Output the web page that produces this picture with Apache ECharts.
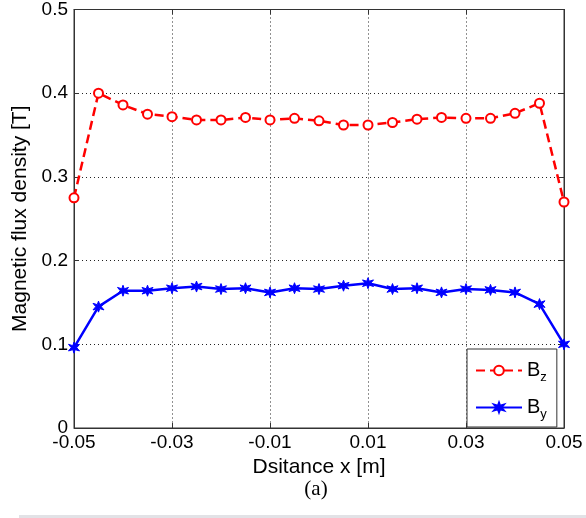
<!DOCTYPE html>
<html><head><meta charset="utf-8">
<script src="https://cdn.jsdelivr.net/npm/echarts@6/dist/echarts.min.js"></script>
<style>html,body{margin:0;padding:0;background:#fff}#c{width:586px;height:518px}</style>
</head><body><div id="c"></div>
<script>
const xValues = [-0.05,-0.045,-0.04,-0.035,-0.03,-0.025,-0.02,-0.015,-0.01,-0.005,0,0.005,0.01,0.015,0.02,0.025,0.03,0.035,0.04,0.045,0.05];
const bz = [0.275,0.400,0.386,0.375,0.372,0.368,0.368,0.371,0.368,0.370,0.367,0.362,0.362,0.365,0.369,0.371,0.370,0.370,0.376,0.388,0.270];
const by = [0.096,0.145,0.164,0.164,0.167,0.169,0.166,0.167,0.162,0.167,0.166,0.170,0.173,0.166,0.167,0.162,0.166,0.165,0.162,0.148,0.100];
const xTicks = [-0.05,-0.03,-0.01,0.01,0.03,0.05];
const yTicks = [0,0.1,0.2,0.3,0.4,0.5];

const star = 'path://M5,0 L6.1,3.2 L9.8,2 L7.4,5 L9.8,8 L6.1,6.8 L5,10 L3.9,6.8 L0.2,8 L2.6,5 L0.2,2 L3.9,3.2 Z';
const font = 'Liberation Sans, Arial, sans-serif';
const chart = echarts.init(document.getElementById('c'), null, {renderer:'canvas'});
const baseX = {type:'value', min:-0.05, max:0.05, interval:0.02};
chart.setOption({
  animation:false,
  backgroundColor:'#fff',
  grid:{left:74,right:22,top:8,bottom:90,show:true,borderColor:'#333',borderWidth:1,backgroundColor:'transparent'},
  xAxis:[{
    ...baseX, position:'bottom',
    axisLine:{show:true,onZero:false,lineStyle:{color:'#333',width:1}},
    axisTick:{show:true,inside:true,length:5,lineStyle:{color:'#333'},customValues:xTicks},
    axisLabel:{color:'#000',fontFamily:font,fontSize:19,margin:5,customValues:xTicks,
      formatter:v=>{const t=Math.round(v*100)/100;return t===0?'0':String(t);}},
    splitLine:{show:true,lineStyle:{color:'#222',type:[1,3],width:1}},
    name:'Dsitance x [m]',nameLocation:'middle',nameGap:29,
    nameTextStyle:{color:'#000',fontFamily:font,fontSize:21}
  },{
    ...baseX, position:'top',
    axisLine:{show:true,onZero:false,lineStyle:{color:'#333'}},
    axisTick:{show:true,inside:true,length:5,lineStyle:{color:'#333'},customValues:xTicks},
    axisLabel:{show:false},splitLine:{show:false}
  }],
  yAxis:[{
    type:'value',min:0,max:0.5,interval:0.1,position:'left',
    axisLine:{show:true,onZero:false,lineStyle:{color:'#333'}},
    axisTick:{show:true,inside:true,length:5,lineStyle:{color:'#333'}},
    axisLabel:{color:'#000',fontFamily:font,fontSize:19,margin:6,customValues:yTicks,
      formatter:v=>{const t=Math.round(v*10)/10;return t===0?'0':String(t);}},
    splitLine:{show:true,lineStyle:{color:'#222',type:[1,3],width:1}},
    name:'Magnetic flux density [T]',nameLocation:'middle',nameGap:41,
    nameTextStyle:{color:'#000',fontFamily:font,fontSize:21}
  },{
    type:'value',min:0,max:0.5,interval:0.1,position:'right',
    axisLine:{show:true,onZero:false,lineStyle:{color:'#333'}},
    axisTick:{show:true,inside:true,length:5,lineStyle:{color:'#333'}},
    axisLabel:{show:false},splitLine:{show:false}
  }],
  legend:{
    orient:'vertical',left:467,top:349,
    backgroundColor:'#fff',borderColor:'#333',borderWidth:1,
    padding:[8,10,6,8],itemGap:10,itemWidth:46,itemHeight:12,
    data:['Bz','By'],
    formatter:n=>n==='Bz'?'{b|B}{s|z}':'{b|B}{s|y}',
    textStyle:{rich:{
      b:{fontFamily:font,fontSize:20,color:'#000',lineHeight:26},
      s:{fontFamily:font,fontSize:13,color:'#000',lineHeight:26,padding:[14,0,0,0]}
    }}
  },
  series:[{
    name:'Bz',type:'line',data:xValues.map((x,i)=>[x,bz[i]]),
    symbol:'emptyCircle',symbolSize:9,
    lineStyle:{color:'#ff0000',width:2.5,type:[9,5]},
    itemStyle:{color:'#ff0000',borderColor:'#ff0000',borderWidth:1.5},
    z:3
  },{
    name:'By',type:'line',data:xValues.map((x,i)=>[x,by[i]]),
    symbol:star,symbolSize:11,
    lineStyle:{color:'#0000ff',width:2.5},
    itemStyle:{color:'#0000ff',borderColor:'#0000ff',borderWidth:1},
    z:3
  }],
  graphic:[
    {type:'text',x:316,y:489,style:{text:'(a)',fontSize:21,fontFamily:'Liberation Serif, Times New Roman, serif',fill:'#000',align:'center',verticalAlign:'middle'}},
    {type:'rect',shape:{x:19,y:515,width:567,height:3},style:{fill:'#e2e2e6'}}
  ]
});
</script></body></html>
